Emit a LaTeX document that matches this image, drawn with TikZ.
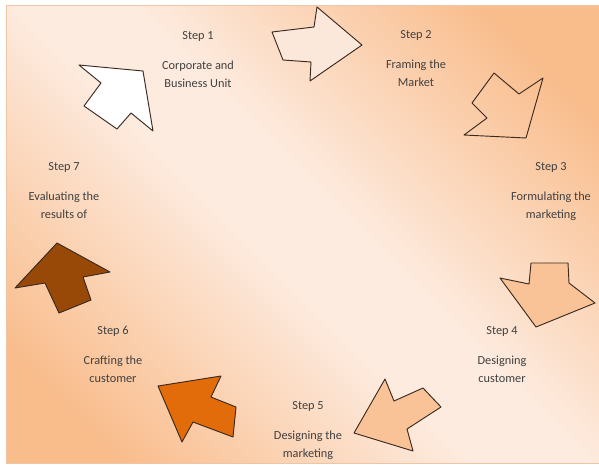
\documentclass[tikz,border=0pt]{standalone}
\usepackage{fontspec}
\setmainfont{Carlito}
\usetikzlibrary{positioning}

\definecolor{bgorange}{HTML}{F9BC8B}
\definecolor{bglight}{HTML}{FDEBDF}
\definecolor{bgframe}{HTML}{EEC6A6}
\definecolor{arrowline}{HTML}{3B2A20}
\definecolor{palepeach}{HTML}{FCE8DA}
\definecolor{lightorange}{HTML}{F9C397}
\definecolor{darkorange}{HTML}{E36C0A}
\definecolor{brownorange}{HTML}{984807}
\definecolor{textgray}{HTML}{404040}

\pgfdeclareverticalshading{bgshade}{100bp}{color(0bp)=(bgorange); color(22bp)=(bgorange);
  color(46bp)=(bglight); color(54bp)=(bglight); color(78bp)=(bgorange); color(100bp)=(bgorange)}

\begin{document}
\begin{tikzpicture}[x=0.03cm, y=-0.03cm, node distance=10pt,
  steplabel/.style={text=textgray, font=\fontsize{10.5}{13}\selectfont},
  steptext/.style={text=textgray, align=center, font=\fontsize{10.5}{15.5}\selectfont},
  bigarrow/.style={draw=arrowline, line width=0.8pt, line join=round}]
  \useasboundingbox (0,0) rectangle (599,468);

  % Background
  \begin{scope}[y=0.03cm]
    \shade[shading=bgshade, shading angle=-45] (6,-5) rectangle (599,-463);
  \end{scope}
  \draw[bgframe, line width=0.6pt] (6,5) rectangle (599,463);

  % Step 1
  \node[steplabel] (step1) at (198,36) {Step 1};
  \node[steptext, below=of step1] (text1) {Corporate and\\Business Unit};
  \draw[bigarrow, fill=white] (79,65) -- (143,71) -- (153,131) -- (131,113) -- (117,129)
    -- (84,106) -- (101,83) -- cycle;

  % Step 2
  \node[steplabel] (step2) at (416,35) {Step 2};
  \node[steptext, below=of step2] (text2) {Framing the\\Market};
  \draw[bigarrow, fill=palepeach] (272,32) -- (314,27) -- (317,7) -- (362,45) -- (310,81)
    -- (311,62) -- (283,60) -- cycle;

  % Step 3
  \node[steplabel] (step3) at (551,167) {Step 3};
  \node[steptext, below=of step3] (text3) {Formulating the\\marketing};
  \draw[bigarrow] (494,73) -- (519,94) -- (543,78) -- (526,138) -- (464,135)
    -- (487,118) -- (472,103) -- cycle;

  % Step 4
  \node[steplabel] (step4) at (502,331) {Step 4};
  \node[steptext, below=of step4] (text4) {Designing\\customer};
  \draw[bigarrow, fill=lightorange] (531,263) -- (568,263) -- (569,283) -- (595,303)
    -- (536,327) -- (500,278) -- (529,284) -- cycle;

  % Step 5
  \node[steplabel] (step5) at (308,406) {Step 5};
  \node[steptext, below=of step5] (text5) {Designing the\\marketing};
  \draw[bigarrow, fill=lightorange] (385,379) -- (394,401) -- (423,388) -- (441,407)
    -- (407,429) -- (413,451) -- (354,433) -- cycle;

  % Step 6
  \node[steplabel] (step6) at (113,331) {Step 6};
  \node[steptext, below=of step6] (text6) {Crafting the\\customer};
  \draw[bigarrow, fill=darkorange] (158,386) -- (221,376) -- (211,397) -- (236,407)
    -- (233,437) -- (193,422) -- (182,442) -- cycle;

  % Step 7
  \node[steplabel] (step7) at (64,167) {Step 7};
  \node[steptext, below=of step7] (text7) {Evaluating the\\results of};
  \draw[bigarrow, fill=brownorange] (57,243) -- (110,272) -- (83,277) -- (91,300)
    -- (59,313) -- (45,283) -- (15,288) -- cycle;
\end{tikzpicture}
\end{document}
